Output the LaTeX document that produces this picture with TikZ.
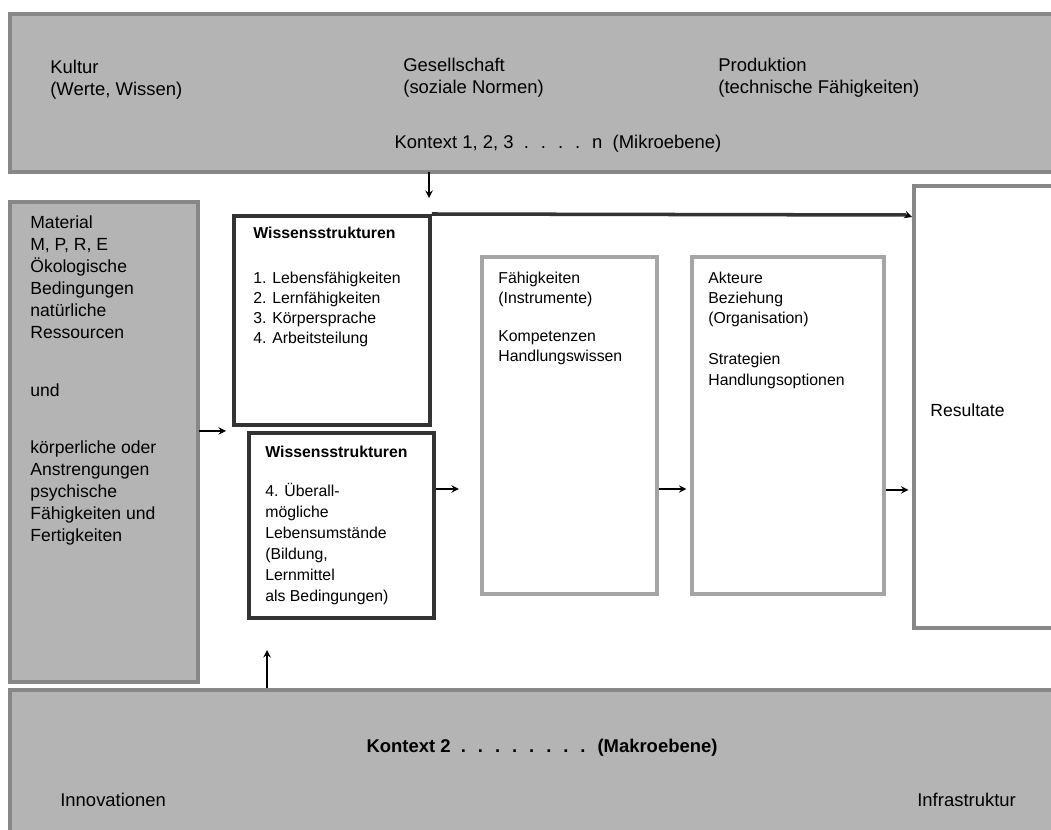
\documentclass[tikz,border=0pt]{standalone}
\usepackage{fontspec}
\setmainfont{Liberation Sans}
\usetikzlibrary{positioning}

\definecolor{bandgray}{RGB}{180,180,180}
\definecolor{edgegray}{RGB}{135,135,135}
\definecolor{boxgray}{RGB}{165,165,165}

\begin{document}
\begin{tikzpicture}[x=0.02cm, y=-0.02cm,
        band/.style={rectangle, draw=edgegray, line width=2.5pt, fill=bandgray, anchor=north west, inner sep=0pt},
        struct/.style={rectangle, draw=black!80, line width=2.2pt, fill=white, anchor=north west, inner sep=0pt},
        stage/.style={rectangle, draw=boxgray, line width=2.5pt, fill=white, anchor=north west, inner sep=0pt},
        txt/.style={anchor=north west, align=left, inner sep=0pt, font=\fontsize{9}{11.4}\selectfont},
        bandtxt/.style={txt, font=\fontsize{10.5}{12.5}\selectfont},
        arrow/.style={->, >=stealth, line width=0.9pt}
    ]
        \useasboundingbox (0,0) rectangle (1051,830);
        \clip (0,0) rectangle (1051,830);

        % bands and boxes
        \node[band, minimum width=21.2cm, minimum height=3.16cm] (top) at (8,12) {};
        \node[band, minimum width=21.2cm, minimum height=3.04cm] (bottom) at (8,688) {};
        \node[band, minimum width=3.76cm, minimum height=9.6cm] (material) at (8,200) {};
        \node[struct, minimum width=3.92cm, minimum height=4.18cm] (wissen) at (232,214) {};
        \node[struct, minimum width=3.7cm, minimum height=3.7cm] (wissenb) at (247,431) {};
        \node[stage, minimum width=3.5cm, minimum height=6.74cm] (faehig) at (480,255) {};
        \node[stage, minimum width=3.84cm, minimum height=6.74cm] (akteure) at (690,255) {};
        \node[rectangle, draw=edgegray, line width=2.5pt, fill=white, anchor=north west,
              minimum width=3.2cm, minimum height=8.84cm] (result) at (912,184) {};

        % texts
        \node[bandtxt] (kultur) at (50,60) {Kultur\\(Werte, Wissen)};
        \node[bandtxt] (gesell) at (403,58) {Gesellschaft\\(soziale Normen)};
        \node[bandtxt] (produkt) at (718,58) {Produktion\\(technische Fähigkeiten)};
        \node[bandtxt, anchor=center] (mikro) at (558,144) {Kontext 1, 2, 3 \ . \ . \ . \ . \ n \ (Mikroebene)};
        \node[bandtxt, anchor=center] (makro) at (542,748) {\textbf{Kontext 2 \ . \ . \ . \ . \ . \ . \ . \ . \ (Makroebene)}};
        \node[bandtxt] (innov) at (60,793) {Innovationen};
        \node[bandtxt] (infra) at (917,793) {Infrastruktur};

        \node[txt, font=\fontsize{10}{12.6}\selectfont] (mattext) at (30,215)
            {Material\\M, P, R, E\\Ökologische\\Bedingungen\\natürliche\\Ressourcen\\[20pt]und\\[20pt]körperliche oder\\Anstrengungen\\psychische\\Fähigkeiten und\\Fertigkeiten};
        \node[txt] (wtext) at (253,227)
            {\textbf{Wissensstrukturen}\\[14pt]1. Lebensfähigkeiten\\2. Lernfähigkeiten\\3. Körpersprache\\4. Arbeitsteilung};
        \node[txt, font=\fontsize{9}{12}\selectfont] (wbtext) at (265,446)
            {\textbf{Wissensstrukturen}\\[10pt]4. Überall-\\mögliche\\Lebensumstände\\(Bildung,\\Lernmittel\\als Bedingungen)};
        \node[txt] (ftext) at (498,272)
            {Fähigkeiten\\(Instrumente)\\[10pt]Kompetenzen\\Handlungswissen};
        \node[txt] (atext) at (708,272)
            {Akteure\\Beziehung\\(Organisation)\\[12pt]Strategien\\Handlungsoptionen};
        \node[txt, anchor=west, font=\fontsize{10}{12}\selectfont] (rtext) at (930,410) {Resultate};

        % connectors
        \coordinate (topfoot) at (429,172);
        \coordinate (topend) at (429,198);
        \coordinate (matout) at (199,431);
        \coordinate (matend) at (226,431);
        \coordinate (botfoot) at (267,688);
        \coordinate (botend) at (267,650);

        \draw[arrow] (topfoot) -- (topend);
        \draw[line width=2pt, draw=black!80] (wissen.north east) -- (906,215);
        \draw[arrow] (906,215) -- (result.west |- 0,217);
        \draw[arrow] (matout) -- (matend);
        \draw[arrow] (botfoot) -- (botend);
        \draw[arrow, shorten >=12pt] (wissenb.east |- 0,489) -- (faehig.west |- 0,489);
        \draw[arrow, shorten >=2pt] (faehig.east |- 0,489) -- (akteure.west |- 0,489);
        \draw[arrow, shorten >=2pt] (akteure.east |- 0,490) -- (result.west |- 0,490);
    \end{tikzpicture}
\end{document}
